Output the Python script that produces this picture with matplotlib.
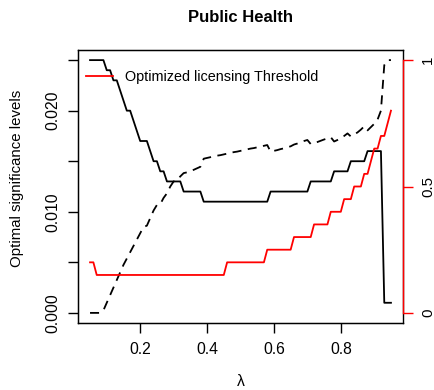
import matplotlib
matplotlib.use('Agg')
import matplotlib.pyplot as plt
from matplotlib.lines import Line2D

plt.rcParams['font.family'] = ['Liberation Sans', 'DejaVu Sans']

# lambda grid
lam = [0.05, 0.06, 0.07, 0.08, 0.09, 0.10, 0.11, 0.12, 0.13, 0.14,
       0.15, 0.16, 0.17, 0.18, 0.19, 0.20, 0.21, 0.22, 0.23, 0.24,
       0.25, 0.26, 0.27, 0.28, 0.29, 0.30, 0.31, 0.32, 0.33, 0.34,
       0.35, 0.36, 0.37, 0.38, 0.39, 0.40, 0.41, 0.42, 0.43, 0.44,
       0.45, 0.46, 0.47, 0.48, 0.49, 0.50, 0.51, 0.52, 0.53, 0.54,
       0.55, 0.56, 0.57, 0.58, 0.59, 0.60, 0.61, 0.62, 0.63, 0.64,
       0.65, 0.66, 0.67, 0.68, 0.69, 0.70, 0.71, 0.72, 0.73, 0.74,
       0.75, 0.76, 0.77, 0.78, 0.79, 0.80, 0.81, 0.82, 0.83, 0.84,
       0.85, 0.86, 0.87, 0.88, 0.89, 0.90, 0.91, 0.92, 0.93, 0.94,
       0.95]

# optimal significance level (left axis)
alpha_opt = ([0.025] * 5 + [0.024, 0.024, 0.023, 0.023, 0.022, 0.021, 0.020, 0.020,
              0.019, 0.018, 0.017, 0.017, 0.017, 0.016, 0.015, 0.015, 0.014, 0.014,
              0.013, 0.013, 0.013, 0.013, 0.013] + [0.012] * 6 + [0.011] * 20
             + [0.012] * 12 + [0.013] * 7 + [0.014] * 5 + [0.015] * 5 + [0.016] * 5
             + [0.001] * 3)

# dashed series (right axis)
power = [0.0, 0.0, 0.0, 0.0, 0.01, 0.04, 0.07, 0.10, 0.13, 0.16,
         0.19, 0.215, 0.24, 0.265, 0.29, 0.315, 0.34, 0.345, 0.375, 0.405,
         0.427, 0.43, 0.455, 0.473, 0.50, 0.52, 0.525, 0.54, 0.553, 0.556,
         0.56, 0.566, 0.572, 0.578, 0.61, 0.613, 0.616, 0.619, 0.622, 0.624,
         0.627, 0.630, 0.633, 0.636, 0.638, 0.641, 0.644, 0.647, 0.650, 0.652,
         0.655, 0.658, 0.661, 0.664, 0.638, 0.641, 0.644, 0.648, 0.651, 0.655,
         0.659, 0.666, 0.670, 0.675, 0.680, 0.684, 0.668, 0.672, 0.676, 0.681,
         0.686, 0.690, 0.695, 0.678, 0.684, 0.692, 0.700, 0.710, 0.698, 0.706,
         0.714, 0.725, 0.738, 0.722, 0.735, 0.748, 0.765, 0.80, 0.98, 1.0,
         1.0]

# optimized licensing threshold (right axis, red)
threshold = ([0.2] * 2 + [0.15] * 39 + [0.2] * 12 + [0.25] * 8 + [0.3] * 6
             + [0.35] * 5 + [0.4] * 4 + [0.45] * 3 + [0.5] * 3 + [0.55] * 2
             + [0.6, 0.65, 0.65, 0.7, 0.7, 0.75, 0.8])

W, H = 434, 390
fig = plt.figure(figsize=(W / 100, H / 100), dpi=100)
L, R, T, B = 78, 403, 50, 323
ax = fig.add_axes([L / W, 1 - B / H, (R - L) / W, (B - T) / H])

ax.plot(lam, alpha_opt, color='black', lw=1.3)
ax.set_xlim(0.014, 0.986)
ax.set_ylim(-0.001, 0.026)
ax.set_xticks([0.2, 0.4, 0.6, 0.8])
ax.set_xticklabels(['0.2', '0.4', '0.6', '0.8'])
ax.set_yticks([0.0, 0.005, 0.010, 0.015, 0.020, 0.025])
ax.set_yticklabels(['0.000', '', '0.010', '', '0.020', ''], rotation=90, va='center')
ax.tick_params(direction='out', length=7, width=1, labelsize=11.3)
ax.tick_params(axis='x', pad=6.5)
ax.tick_params(axis='y', pad=6)
for s in ax.spines.values():
    s.set_linewidth(1.0)

ax2 = ax.twinx()
ax2.plot(lam, power, color='black', lw=1.3, linestyle=(0, (5, 3.6)))
ax2.plot(lam, threshold, color='red', lw=1.3)
ax2.set_ylim(-0.04, 1.04)
ax2.set_yticks([0, 0.5, 1])
ax2.set_yticklabels(['0', '0.5', '1'], rotation=90, va='center')
ax2.tick_params(direction='out', length=7, width=1, labelsize=10.8, pad=6,
                color='red', labelcolor='black')
ax2.spines['right'].set_color('red')
ax2.spines['right'].set_bounds(0, 1)
ax2.spines['right'].set_linewidth(1.0)

ax.set_xlabel('λ', fontsize=11.3, va='center')
ax.xaxis.set_label_coords(0.5, (B - 381) / (B - T))
ax.set_ylabel('Optimal significance levels', fontsize=10.8, va='center')
ax.yaxis.set_label_coords((17 - L) / (R - L), (B - 178.5) / (B - T))
ax.set_title('Public Health', fontsize=12, fontweight='bold',
             y=(B - 17) / (B - T), va='center', pad=0)

ax.legend(handles=[Line2D([], [], color='red', lw=1.3)],
          labels=['Optimized licensing Threshold'],
          loc='center left', bbox_to_anchor=(86 / W, 1 - 77 / H),
          bbox_transform=fig.transFigure, frameon=False, borderpad=0,
          borderaxespad=0, handlelength=1.9, handletextpad=0.83, fontsize=10.4)

fig.savefig('out.png', dpi=100)
